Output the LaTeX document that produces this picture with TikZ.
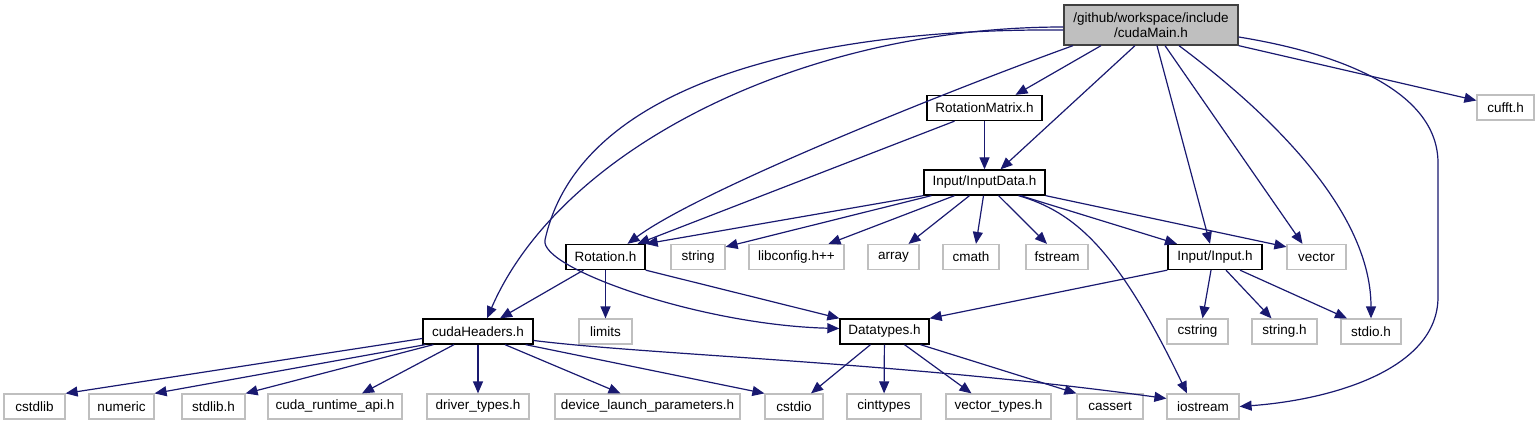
\documentclass[tikz,border=0pt]{standalone}
\usepackage{fontspec}
\setmainfont{Liberation Sans}
\usepackage{tikz}
\usetikzlibrary{arrows.meta}
\definecolor{depblue}{HTML}{191970}
\definecolor{rootfill}{HTML}{BFBFBF}
\definecolor{rootline}{HTML}{404040}
\definecolor{extline}{HTML}{BFBFBF}

\begin{document}
\begin{tikzpicture}[
  x=1pt, y=-1pt,
  font=\fontsize{13.5}{15.5}\selectfont,
  rootbox/.style={draw=rootline, fill=rootfill, line width=1.3pt,
                  minimum height=40pt, inner sep=0pt, align=center},
  hdrbox/.style={draw=black, fill=white, line width=1.3pt,
                 minimum height=25pt, inner sep=0pt},
  extbox/.style={draw=extline, fill=white, line width=1.2pt,
                 minimum height=25pt, inner sep=0pt},
  dep/.style={-{Triangle[length=12pt,width=10pt]}, line width=1.2pt, draw=depblue}
]
  \useasboundingbox (0,0) rectangle (1540,425);

  \node[rootbox, minimum width=174pt] (cudamain) at (1151,25) {/github/workspace/include\\/cudaMain.h};

  \node[hdrbox, minimum width=115pt] (rotmat) at (984.5,108) {RotationMatrix.h};
  \node[extbox, minimum width=57pt] (cufft) at (1505.5,107.5) {cufft.h};

  \node[hdrbox, minimum width=121pt] (inputdata) at (984.5,182.5) {Input/InputData.h};

  \node[hdrbox, minimum width=79pt] (rotation) at (605.5,257) {Rotation.h};
  \node[extbox, minimum width=54pt] (string) at (698,257) {string};
  \node[extbox, minimum width=95pt] (libconfig) at (796.5,257) {libconfig.h++};
  \node[extbox, minimum width=51pt] (array) at (893.5,257) {array};
  \node[extbox, minimum width=56pt] (cmath) at (971,257) {cmath};
  \node[extbox, minimum width=62pt] (fstream) at (1057,257) {fstream};
  \node[hdrbox, minimum width=94pt] (input) at (1215,257) {Input/Input.h};
  \node[extbox, minimum width=59pt] (vector) at (1316.5,257) {vector};

  \node[hdrbox, minimum width=110pt] (cudaheaders) at (478,331.5) {cudaHeaders.h};
  \node[extbox, minimum width=53pt] (limits) at (605.5,331.5) {limits};
  \node[hdrbox, minimum width=89pt] (datatypes) at (884.5,331.5) {Datatypes.h};
  \node[extbox, minimum width=61pt] (cstring) at (1197.5,331.5) {cstring};
  \node[extbox, minimum width=65pt] (stringh) at (1284.5,331.5) {string.h};
  \node[extbox, minimum width=60pt] (stdio) at (1371,331.5) {stdio.h};

  \node[extbox, minimum width=61pt] (cstdlib) at (34.5,406.5) {cstdlib};
  \node[extbox, minimum width=65pt] (numeric) at (121.5,406.5) {numeric};
  \node[extbox, minimum width=63pt] (stdlib) at (213.5,406.5) {stdlib.h};
  \node[extbox, minimum width=134pt] (cudaruntime) at (335,406.5) {cuda\_runtime\_api.h};
  \node[extbox, minimum width=102pt] (drivertypes) at (478,406.5) {driver\_types.h};
  \node[extbox, minimum width=185pt] (devicelaunch) at (647.5,406.5) {device\_launch\_parameters.h};
  \node[extbox, minimum width=58pt] (cstdio) at (794,406.5) {cstdio};
  \node[extbox, minimum width=74pt] (cinttypes) at (884,406.5) {cinttypes};
  \node[extbox, minimum width=105pt] (vectortypes) at (998.5,406.5) {vector\_types.h};
  \node[extbox, minimum width=66pt] (cassert) at (1110,406.5) {cassert};
  \node[extbox, minimum width=72pt] (iostream) at (1203,406.5) {iostream};

  \draw[dep] ([yshift=-2]cudamain.west) .. controls (800,27) and (560,150) .. ([xshift=9]cudaheaders.north);
  \draw[dep] ([yshift=-5]cudamain.west) .. controls (820,28) and (580,80) .. (545,240)
             .. controls (539,268) and (700,325) .. ([yshift=3]datatypes.west);
  \draw[dep] ([xshift=-78]cudamain.south) .. controls (950,90) and (700,190) .. ([xshift=22]rotation.north);
  \draw[dep] ([xshift=-50]cudamain.south) -- ([xshift=31]rotmat.north);
  \draw[dep] ([xshift=-16]cudamain.south) -- ([xshift=16]inputdata.north);
  \draw[dep] ([xshift=6]cudamain.south) -- ([xshift=-5]input.north);
  \draw[dep] ([xshift=14]cudamain.south) -- ([xshift=-14]vector.north);
  \draw[dep] ([xshift=28]cudamain.south) .. controls (1245,95) and (1371,200) .. (stdio.north);
  \draw[dep] ([yshift=-12]cudamain.east) .. controls (1350,55) and (1438,95) .. (1438,163)
             -- (1438,297) .. controls (1438,370) and (1330,400) .. (iostream.east);
  \draw[dep] (cudamain.south east) -- ([yshift=7]cufft.west);

  \draw[dep] (rotmat) -- (inputdata);
  \draw[dep] ([xshift=-30]rotmat.south) -- ([xshift=32]rotation.north);

  \draw[dep] (inputdata.south west) -- (rotation.north east);
  \draw[dep] ([xshift=8]inputdata.south west) -- ([yshift=-3]string.north east);
  \draw[dep] ([xshift=-30]inputdata.south) -- ([xshift=32]libconfig.north);
  \draw[dep] ([xshift=-15]inputdata.south) -- ([xshift=15]array.north);
  \draw[dep] ([xshift=-1]inputdata.south) -- ([xshift=5]cmath.north);
  \draw[dep] ([xshift=14]inputdata.south) -- ([xshift=-10]fstream.north);
  \draw[dep] ([xshift=36]inputdata.south) -- ([xshift=-38]input.north);
  \draw[dep] (inputdata.south east) -- ([yshift=-3]vector.north west);
  \draw[dep] ([xshift=34]inputdata.south) .. controls (1075,212) and (1118,250) .. ([xshift=-16]iostream.north);

  \draw[dep] (input.south west) -- (datatypes.north east);
  \draw[dep] ([xshift=-4]input.south) -- ([xshift=5]cstring.north);
  \draw[dep] ([xshift=11]input.south) -- ([xshift=-13]stringh.north);
  \draw[dep] ([xshift=25]input.south) -- ([xshift=-24]stdio.north);

  \draw[dep] ([xshift=-22]rotation.south) -- ([xshift=22]cudaheaders.north);
  \draw[dep] (rotation) -- (limits);
  \draw[dep] (rotation.south east) -- (datatypes.north west);

  \draw[dep] ([yshift=-7]cudaheaders.west) -- (cstdlib.north east);
  \draw[dep] ([xshift=3]cudaheaders.south west) -- (numeric.north east);
  \draw[dep] ([xshift=11]cudaheaders.south west) -- (stdlib.north east);
  \draw[dep] ([xshift=-24]cudaheaders.south) -- ([xshift=27]cudaruntime.north);
  \draw[dep] (cudaheaders) -- (drivertypes);
  \draw[dep] ([xshift=27]cudaheaders.south) -- ([xshift=-27]devicelaunch.north);
  \draw[dep] ([xshift=-8]cudaheaders.south east) -- (cstdio.north west);
  \draw[dep] ([yshift=-9]cudaheaders.east) .. controls (650,355) and (900,362) .. ([yshift=8]iostream.west);

  \draw[dep] ([xshift=-14]datatypes.south) -- ([xshift=17]cstdio.north);
  \draw[dep] (datatypes) -- (cinttypes);
  \draw[dep] ([xshift=20]datatypes.south) -- ([xshift=-27]vectortypes.north);
  \draw[dep] ([xshift=36]datatypes.south) -- (cassert.north west);
\end{tikzpicture}
\end{document}
